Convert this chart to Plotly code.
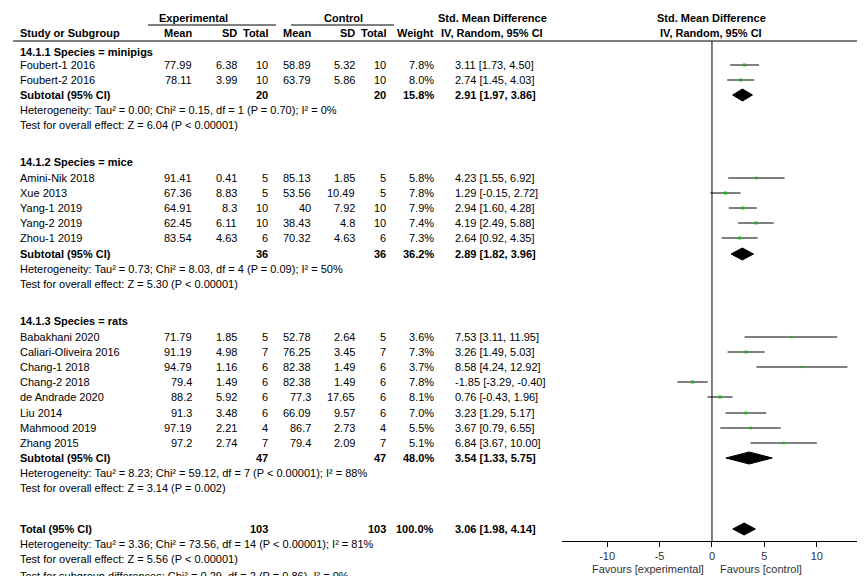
import plotly.graph_objects as go

W, H = 865, 576
FONT = "Liberation Sans, Arial, sans-serif"

# ---- data ----
studies = ["Foubert-1 2016", "Foubert-2 2016",
           "Amini-Nik 2018", "Xue 2013", "Yang-1 2019", "Yang-2 2019", "Zhou-1 2019",
           "Babakhani 2020", "Caliari-Oliveira 2016", "Chang-1 2018", "Chang-2 2018",
           "de Andrade 2020", "Liu 2014", "Mahmood 2019", "Zhang 2015"]
exp_mean = ["77.99", "78.11", "91.41", "67.36", "64.91", "62.45", "83.54",
            "71.79", "91.19", "94.79", "79.4", "88.2", "91.3", "97.19", "97.2"]
exp_sd = ["6.38", "3.99", "0.41", "8.83", "8.3", "6.11", "4.63",
          "1.85", "4.98", "1.16", "1.49", "5.92", "3.48", "2.21", "2.74"]
exp_n = [10, 10, 5, 5, 10, 10, 6, 5, 7, 6, 6, 6, 6, 4, 7]
ctl_mean = ["58.89", "63.79", "85.13", "53.56", "40", "38.43", "70.32",
            "52.78", "76.25", "82.38", "82.38", "77.3", "66.09", "86.7", "79.4"]
ctl_sd = ["5.32", "5.86", "1.85", "10.49", "7.92", "4.8", "4.63",
          "2.64", "3.45", "1.49", "1.49", "17.65", "9.57", "2.73", "2.09"]
ctl_n = [10, 10, 5, 5, 10, 10, 6, 5, 7, 6, 6, 6, 6, 4, 7]
weight = [7.8, 8.0, 5.8, 7.8, 7.9, 7.4, 7.3, 3.6, 7.3, 3.7, 7.8, 8.1, 7.0, 5.5, 5.1]
smd = [3.11, 2.74, 4.23, 1.29, 2.94, 4.19, 2.64, 7.53, 3.26, 8.58, -1.85, 0.76, 3.23, 3.67, 6.84]
lo = [1.73, 1.45, 1.55, -0.15, 1.60, 2.49, 0.92, 3.11, 1.49, 4.24, -3.29, -0.43, 1.29, 0.79, 3.67]
hi = [4.50, 4.03, 6.92, 2.72, 4.28, 5.88, 4.35, 11.95, 5.03, 12.92, -0.40, 1.96, 5.17, 6.55, 10.00]
study_rows = [57, 72, 170, 185, 200, 215, 230, 329, 344, 359, 374, 389, 405, 420, 435]

groups = ["14.1.1 Species = minipigs", "14.1.2 Species = mice", "14.1.3 Species = rats"]
group_rows = [44, 154, 313]
sub_n = [20, 36, 47]
sub_w = ["15.8%", "36.2%", "48.0%"]
sub_est = [2.91, 2.89, 3.54]
sub_lo = [1.97, 1.82, 1.33]
sub_hi = [3.86, 3.96, 5.75]
sub_rows = [87, 246, 450]
het_text = ["Heterogeneity: Tau² = 0.00; Chi² = 0.15, df = 1 (P = 0.70); I² = 0%",
            "Heterogeneity: Tau² = 0.73; Chi² = 8.03, df = 4 (P = 0.09); I² = 50%",
            "Heterogeneity: Tau² = 8.23; Chi² = 59.12, df = 7 (P < 0.00001); I² = 88%"]
eff_text = ["Test for overall effect: Z = 6.04 (P < 0.00001)",
            "Test for overall effect: Z = 5.30 (P < 0.00001)",
            "Test for overall effect: Z = 3.14 (P = 0.002)"]

tot_n = 103
tot_est, tot_lo, tot_hi = 3.06, 1.98, 4.14
tot_row = 521
tot_lines = ["Heterogeneity: Tau² = 3.36; Chi² = 73.56, df = 14 (P < 0.00001); I² = 81%",
             "Test for overall effect: Z = 5.56 (P < 0.00001)",
             "Test for subgroup differences: Chi² = 0.29, df = 2 (P = 0.86), I² = 0%"]
tot_line_rows = [536, 551, 568]

ticks = [-10, -5, 0, 5, 10]

fig = go.Figure()
ann = []


def txt(x, y, s, anchor="left", bold=False, size=11):
    ann.append(dict(x=x / W, y=y, xref="paper", yref="y", text=f"<b>{s}</b>" if bold else s,
                    showarrow=False, xanchor=anchor, yanchor="middle",
                    font=dict(family=FONT, size=size, color="black")))


def ci(e, l, h):
    return f"{e:.2f} [{l:.2f}, {h:.2f}]"


# header
txt(185, 10, "Experimental", "center", True)
txt(335, 10, "Control", "center", True)
txt(484, 10, "Std. Mean Difference", "center", True)
txt(703, 10, "Std. Mean Difference", "center", True)
for x, s, a in [(10, "Study or Subgroup", "left"), (186, "Mean", "right"), (231, "SD", "right"),
                (262, "Total", "right"), (305, "Mean", "right"), (349, "SD", "right"),
                (380, "Total", "right"), (428, "Weight", "right"), (484, "IV, Random, 95% CI", "center"),
                (703, "IV, Random, 95% CI", "center")]:
    txt(x, 25, s, a, True)

for i, s in enumerate(studies):
    y = study_rows[i]
    txt(10, y, s)
    txt(186, y, exp_mean[i], "right"); txt(231, y, exp_sd[i], "right"); txt(262, y, exp_n[i], "right")
    txt(305, y, ctl_mean[i], "right"); txt(349, y, ctl_sd[i], "right"); txt(380, y, ctl_n[i], "right")
    txt(428, y, f"{weight[i]:.1f}%", "right")
    txt(445, y, ci(smd[i], lo[i], hi[i]))

for g in range(3):
    txt(10, group_rows[g], groups[g], bold=True)
    y = sub_rows[g]
    txt(10, y, "Subtotal (95% CI)", bold=True)
    txt(262, y, sub_n[g], "right", True); txt(380, y, sub_n[g], "right", True)
    txt(428, y, sub_w[g], "right", True)
    txt(445, y, ci(sub_est[g], sub_lo[g], sub_hi[g]), bold=True)
    txt(10, y + 15, het_text[g]); txt(10, y + 30, eff_text[g])

txt(10, tot_row, "Total (95% CI)", bold=True)
txt(262, tot_row, tot_n, "right", True); txt(380, tot_row, tot_n, "right", True)
txt(428, tot_row, "100.0%", "right", True)
txt(445, tot_row, ci(tot_est, tot_lo, tot_hi), bold=True)
for s, y in zip(tot_lines, tot_line_rows):
    txt(10, y, s)

ann.append(dict(x=-0.6, y=561, xref="x", yref="y", text="Favours [experimental]", showarrow=False,
                xanchor="right", yanchor="middle", font=dict(family=FONT, size=11, color="#333")))
ann.append(dict(x=0.6, y=561, xref="x", yref="y", text="Favours [control]", showarrow=False,
                xanchor="left", yanchor="middle", font=dict(family=FONT, size=11, color="#333")))

# study estimates
fig.add_trace(go.Scatter(
    x=smd, y=study_rows, mode="markers",
    marker=dict(symbol="square", color="#00c000", size=[1.5 + w * 0.22 for w in weight], line=dict(width=0)),
    error_x=dict(type="data", symmetric=False, array=[h - e for h, e in zip(hi, smd)],
                 arrayminus=[e - l for e, l in zip(smd, lo)], color="black", thickness=1, width=0),
    showlegend=False, hoverinfo="skip"))

# diamonds
for e, l, h, y in list(zip(sub_est, sub_lo, sub_hi, sub_rows)) + [(tot_est, tot_lo, tot_hi, tot_row)]:
    fig.add_trace(go.Scatter(x=[l, e, h, e, l], y=[y, y - 6, y, y + 6, y], fill="toself",
                             fillcolor="black", mode="lines", line=dict(color="black", width=1),
                             showlegend=False, hoverinfo="skip"))

shapes = [
    dict(type="line", xref="paper", yref="y", x0=5 / W, x1=1, y0=33, y1=33, line=dict(color="black", width=1)),
    dict(type="line", xref="paper", yref="y", x0=140 / W, x1=268 / W, y0=17, y1=17, line=dict(color="black", width=1)),
    dict(type="line", xref="paper", yref="y", x0=283 / W, x1=386 / W, y0=17, y1=17, line=dict(color="black", width=1)),
    dict(type="line", xref="x", yref="y", x0=0, x1=0, y0=33, y1=533, line=dict(color="black", width=1)),
]

fig.update_layout(
    width=W, height=H, margin=dict(l=0, r=0, t=0, b=0, autoexpand=False),
    paper_bgcolor="white", plot_bgcolor="white",
    annotations=ann, shapes=shapes,
    xaxis=dict(domain=[554 / W, 855 / W], range=[-14.3, 14.4], tickvals=ticks,
               ticktext=[str(t) for t in ticks], showgrid=False, zeroline=False,
               showline=True, linecolor="black", ticks="outside", ticklen=5, tickcolor="black",
               anchor="free", position=1 - 533 / H, automargin=False,
               tickfont=dict(family=FONT, size=11, color="#333")),
    yaxis=dict(range=[H, 0], visible=False, domain=[0, 1], automargin=False),
)

fig.write_html("out.html")
